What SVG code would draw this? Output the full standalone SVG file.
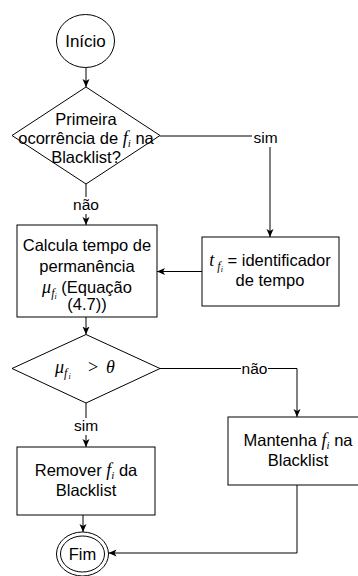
<svg xmlns="http://www.w3.org/2000/svg" width="358" height="576" viewBox="0 0 358 576">
<style>
.n{fill:#fff;stroke:#000;stroke-width:1}
.t{font-family:"Liberation Sans",Arial,sans-serif;font-size:16.5px;fill:#000;text-anchor:middle}
.m{font-family:"Liberation Serif","Times New Roman",serif;font-style:italic}
.e{fill:none;stroke:#000;stroke-width:1}
.lb{fill:#fff;stroke:none}
</style>
<defs>
<marker id="a" markerUnits="userSpaceOnUse" markerWidth="10" markerHeight="10" refX="8" refY="3.5" orient="auto">
<path d="M0,0 L8,3.5 L0,7 L2,3.5 z" fill="#000"/>
</marker>
</defs>
<rect width="358" height="576" fill="#fff"/>
<g id="edges">
<path class="e" d="M86,67 L86,87" marker-end="url(#a)"/>
<path class="e" d="M86,184 L86,225" marker-end="url(#a)"/>
<path class="e" d="M160,136 L270,136 L270,237" marker-end="url(#a)"/>
<path class="e" d="M202,271.5 L157,271.5" marker-end="url(#a)"/>
<path class="e" d="M86,317 L86,334.5" marker-end="url(#a)"/>
<path class="e" d="M86,403 L86,447" marker-end="url(#a)"/>
<path class="e" d="M160,368.5 L297,368.5 L297,417" marker-end="url(#a)"/>
<path class="e" d="M83,515 L83,532" marker-end="url(#a)"/>
<path class="e" d="M297,485 L297,553 L108.5,553" marker-end="url(#a)"/>
<g id="labels">
<rect class="lb" x="72" y="197" width="28" height="17"/>
<text class="t" x="86" y="210" style="font-size:15.5px">não</text>
<rect class="lb" x="252" y="130" width="27" height="17"/>
<text class="t" x="265.5" y="143" style="font-size:15.5px">sim</text>
<rect class="lb" x="73" y="418" width="27" height="17"/>
<text class="t" x="86" y="431" style="font-size:15.5px">sim</text>
<rect class="lb" x="241" y="361" width="27" height="16"/>
<text class="t" x="254.5" y="374" style="font-size:15.5px">não</text>
</g>
</g>
<g id="inicio">
<ellipse class="n" cx="85.5" cy="41" rx="29" ry="26.5"/>
<text class="t" x="85.5" y="47" style="font-size:17px">Início</text>
</g>
<g id="d1">
<path class="n" d="M86,87 L160,135.5 L86,184 L12,135.5 Z"/>
<text class="t" x="86" y="125">Primeira</text>
<text class="t" x="86" y="144">ocorrência de <tspan class="m" style="font-size:18px">f</tspan><tspan class="m" style="font-size:11px" dy="3">i</tspan><tspan dy="-3"> na</tspan></text>
<text class="t" x="86" y="163">Blacklist?</text>
</g>
<g id="box1">
<rect class="n" x="17" y="225" width="140" height="92"/>
<text class="t" x="87" y="251">Calcula tempo de</text>
<text class="t" x="87" y="271.5">permanência</text>
<text class="t" x="87" y="292.5"><tspan class="m" style="font-size:18px">μ</tspan><tspan class="m" style="font-size:12px" dy="4">f</tspan><tspan class="m" style="font-size:8px" dy="2">i</tspan><tspan dy="-6">  (Equação</tspan></text>
<text class="t" x="87" y="310">(4.7))</text>
</g>
<g id="box2">
<rect class="n" x="202" y="237" width="137" height="69"/>
<text class="t" x="270" y="266"><tspan class="m" style="font-size:18px">t</tspan><tspan class="m" style="font-size:12px" dy="4"> f</tspan><tspan class="m" style="font-size:8px" dy="2">i</tspan><tspan dy="-6">  = identificador</tspan></text>
<text class="t" x="270" y="286">de tempo</text>
</g>
<g id="d2">
<path class="n" d="M86,334.5 L160,368.5 L86,403 L12,368.5 Z"/>
<text class="m" x="55" y="373" style="font-size:18px;fill:#000">μ</text>
<text class="m" x="64" y="377" style="font-size:12px;fill:#000">f</text>
<text class="m" x="68.5" y="379" style="font-size:8px;fill:#000">i</text>
<text x="88" y="373" style="font-family:'Liberation Serif',serif;font-size:18px;fill:#000">&gt;</text>
<text class="m" x="106" y="373" style="font-size:18px;fill:#000">θ</text>
</g>
<g id="box3">
<rect class="n" x="17" y="447" width="138" height="68"/>
<text class="t" x="86" y="476">Remover <tspan class="m" style="font-size:18px">f</tspan><tspan class="m" style="font-size:11px" dy="3">i</tspan><tspan dy="-3"> da</tspan></text>
<text class="t" x="86" y="496">Blacklist</text>
</g>
<g id="box4">
<rect class="n" x="228" y="417" width="138" height="68"/>
<text class="t" x="298" y="446">Mantenha <tspan class="m" style="font-size:18px">f</tspan><tspan class="m" style="font-size:11px" dy="3">i</tspan><tspan dy="-3"> na</tspan></text>
<text class="t" x="298" y="466">Blacklist</text>
</g>
<g id="fim">
<ellipse class="n" cx="82.5" cy="554" rx="26" ry="22"/>
<ellipse class="n" cx="82.5" cy="554" rx="22" ry="18"/>
<text class="t" x="82.5" y="559.5">Fim</text>
</g>
</svg>
